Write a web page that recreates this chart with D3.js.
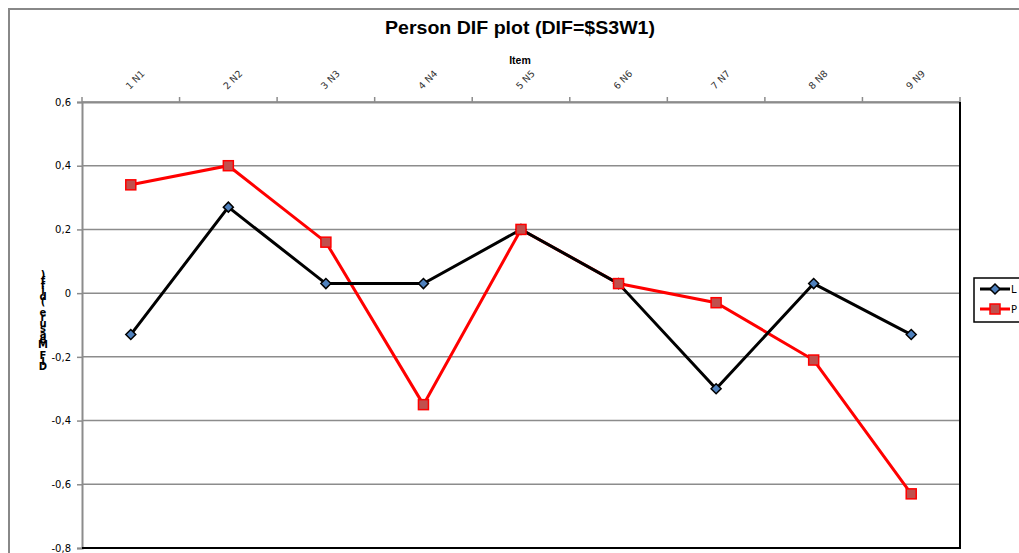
<!DOCTYPE html>
<html><head><meta charset="utf-8">
<script src="https://cdn.jsdelivr.net/npm/d3@7"></script>
<style>body{margin:0;background:#fff}svg{display:block;font-family:"Liberation Sans",Arial,sans-serif}</style>
</head><body>
<svg id="c" width="1019" height="553"></svg>
<script>
const categories = ["1 N1","2 N2","3 N3","4 N4","5 N5","6 N6","7 N7","8 N8","9 N9"];
const seriesL = [-0.13, 0.27, 0.03, 0.03, 0.20, 0.03, -0.30, 0.03, -0.13];
const seriesP = [0.34, 0.40, 0.16, -0.35, 0.20, 0.03, -0.03, -0.21, -0.63];
const yTicks = [0.6, 0.4, 0.2, 0, -0.2, -0.4, -0.6, -0.8];
const yLabel = "DIF Measure (diff)";

const svg = d3.select("#c");
const L = 82, R = 960, T = 102, B = 548;
const x = d3.scaleBand().domain(categories).range([L, R]);
const y = d3.scaleLinear().domain([-0.8, 0.6]).range([B, T]);

// outer chart border
svg.append("path").attr("d", "M9,553V9H1019").attr("fill","none").attr("stroke","#888").attr("stroke-width",2);

// title
svg.append("text").attr("x", 520).attr("y", 34).attr("text-anchor","middle")
  .attr("font-size", 17.5).attr("font-weight","bold")
  .attr("textLength", 270).attr("lengthAdjust","spacingAndGlyphs").text("Person DIF plot (DIF=$S3W1)");
svg.append("text").attr("x", 520).attr("y", 64).attr("text-anchor","middle")
  .attr("font-size", 10.5).attr("font-weight","bold").text("Item");

// gridlines
svg.append("g").selectAll("line").data(yTicks).join("line")
  .attr("x1", L).attr("x2", R).attr("y1", d=>y(d)).attr("y2", d=>y(d))
  .attr("stroke","#8c8c8c").attr("stroke-width",1.5);

// y axis
const fmt = d => d === 0 ? "0" : d3.format(".1f")(d).replace(".", ",").replace("−","-");
const ya = svg.append("g").attr("transform", `translate(${L},0)`)
  .call(d3.axisLeft(y).tickValues(yTicks).tickSize(5).tickPadding(6).tickFormat(fmt));
ya.select(".domain").attr("stroke","#8c8c8c").attr("stroke-width",2);
ya.selectAll(".tick line").attr("stroke","#8c8c8c").attr("stroke-width",1.5);
ya.selectAll(".tick text").attr("font-size",10).attr("fill","#000")
  .attr("font-family","'DejaVu Sans',sans-serif");

// x axis at top
const xa = svg.append("g").attr("transform", `translate(0,${T})`)
  .call(d3.axisTop(x).tickSize(0).tickFormat(d=>d));
xa.select(".domain").attr("stroke","#8c8c8c").attr("stroke-width",2);
xa.selectAll(".tick text").attr("font-size",9.5).attr("fill","#333")
  .attr("font-family","'DejaVu Sans',sans-serif")
  .attr("text-anchor","start").attr("transform","translate(1,-10) rotate(-45)").attr("dy","0");
// category boundary ticks
const bounds = categories.map(c => x(c)).concat([R]);
svg.append("g").selectAll("line").data(bounds).join("line")
  .attr("x1", d=>d).attr("x2", d=>d).attr("y1", T).attr("y2", T-5)
  .attr("stroke","#8c8c8c").attr("stroke-width",1.5);

// right/bottom black border
svg.append("path").attr("d", `M${L},${B}H${R}V${T}`).attr("fill","none").attr("stroke","#000").attr("stroke-width",2);

// y label stacked characters (as in reference)
const chars = yLabel.split("");
svg.append("g").selectAll("text").data(chars).join("text")
  .attr("x", 43).attr("y", (d,i)=> 370 - i*5.4)
  .attr("text-anchor","middle").attr("font-size",10).attr("font-weight","bold")
  .attr("font-family","'DejaVu Sans',sans-serif").text(d=>d);

const cx = d => x(d) + x.bandwidth()/2;
const line = d3.line().x((d,i)=>cx(categories[i])).y(d=>y(d));
const diamond = "M0,-5L5,0L0,5L-5,0Z";

// series P
svg.append("path").datum(seriesP).attr("d", line).attr("fill","none").attr("stroke","#ff0000").attr("stroke-width",3);
// series L
svg.append("path").datum(seriesL).attr("d", line).attr("fill","none").attr("stroke","#000").attr("stroke-width",3);

svg.append("g").selectAll("path").data(seriesL).join("path")
  .attr("d", diamond)
  .attr("transform",(d,i)=>`translate(${cx(categories[i])},${y(d)})`)
  .attr("fill","#4f81bd").attr("stroke","#000").attr("stroke-width",1.5);
svg.append("g").selectAll("rect").data(seriesP).join("rect")
  .attr("x",(d,i)=>cx(categories[i])-5).attr("y",d=>y(d)-5).attr("width",10).attr("height",10)
  .attr("fill","#c0504d").attr("stroke","#ff0000").attr("stroke-width",1.5);

// legend
const lg = svg.append("g");
lg.append("rect").attr("x",974).attr("y",278).attr("width",60).attr("height",44).attr("fill","#fff").attr("stroke","#000").attr("stroke-width",1.5);
lg.append("line").attr("x1",980).attr("x2",1010).attr("y1",289).attr("y2",289).attr("stroke","#000").attr("stroke-width",3);
lg.append("path").attr("d", diamond).attr("transform","translate(995,289)")
  .attr("fill","#4f81bd").attr("stroke","#000").attr("stroke-width",1.5);
lg.append("text").attr("x",1011).attr("y",293).attr("font-size",10).attr("font-family","'DejaVu Sans',sans-serif").text("L");
lg.append("line").attr("x1",980).attr("x2",1010).attr("y1",309).attr("y2",309).attr("stroke","#ff0000").attr("stroke-width",3);
lg.append("rect").attr("x",990).attr("y",304).attr("width",10).attr("height",10).attr("fill","#c0504d").attr("stroke","#ff0000").attr("stroke-width",1.5);
lg.append("text").attr("x",1011).attr("y",313).attr("font-size",10).attr("font-family","'DejaVu Sans',sans-serif").text("P");
</script>
</body></html>
